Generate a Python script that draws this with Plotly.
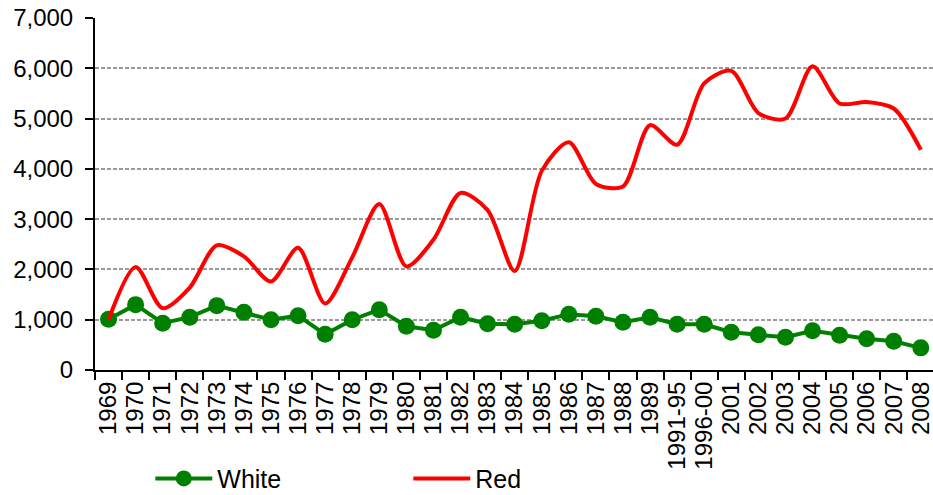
import plotly.graph_objects as go

years = ["1969", "1970", "1971", "1972", "1973", "1974", "1975", "1976", "1977",
         "1978", "1979", "1980", "1981", "1982", "1983", "1984", "1985", "1986",
         "1987", "1988", "1989", "1991-95", "1996-00", "2001", "2002", "2003",
         "2004", "2005", "2006", "2007", "2008"]

white = [1010, 1300, 930, 1050, 1280, 1150, 1000, 1080, 710, 1000, 1200, 870,
         790, 1050, 920, 910, 980, 1110, 1070, 950, 1050, 910, 910, 750, 700,
         650, 780, 690, 620, 570, 440]

red = [1000, 2050, 1230, 1640, 2480, 2260, 1760, 2430, 1320, 2240, 3300, 2060,
       2590, 3520, 3180, 1970, 3960, 4530, 3700, 3650, 4870, 4480, 5700, 5950,
       5110, 5000, 6040, 5300, 5330, 5200, 4380]

y_ticks = [0, 1000, 2000, 3000, 4000, 5000, 6000, 7000]

font_family = "Liberation Sans, Arial, sans-serif"

fig = go.Figure()
fig.add_trace(go.Scatter(
    x=years, y=white, name="White", mode="lines+markers",
    line=dict(color="#008000", width=4),
    marker=dict(color="#008000", size=17),
))
fig.add_trace(go.Scatter(
    x=years, y=red, name="Red", mode="lines",
    line=dict(color="#ff0000", width=4, shape="spline", smoothing=0.8),
))

fig.update_layout(
    width=933, height=495,
    margin=dict(l=95, r=0, t=18, b=125),
    paper_bgcolor="white", plot_bgcolor="white",
    font=dict(family=font_family, size=20, color="black"),
    showlegend=True,
    legend=dict(
        orientation="h", x=0.066, xanchor="left",
        yref="container", y=0.033, yanchor="middle",
        font=dict(size=25), itemwidth=57, entrywidth=186,
        bgcolor="rgba(0,0,0,0)",
    ),
    xaxis=dict(
        type="category", range=[-0.5, 30.45], automargin=False,
        tickmode="array", tickvals=years, ticktext=years,
        showline=True, linecolor="black", linewidth=2,
        ticks="outside", tickson="boundaries", ticklen=8, tickwidth=2,
        tickcolor="black", tickangle=-90, showgrid=False,
        tickfont=dict(size=24),
    ),
    yaxis=dict(
        range=[0, 7000], tickvals=y_ticks, tickformat=",", automargin=False,
        showline=True, linecolor="black", linewidth=2,
        ticks="outside", ticklen=8, tickwidth=2, tickcolor="black",
        ticklabelstandoff=7,
        showgrid=True, gridcolor="#9a9a9a", griddash="4px,2px", gridwidth=1.5,
        zeroline=False, tickfont=dict(size=24),
    ),
)

fig.write_html("out.html")
